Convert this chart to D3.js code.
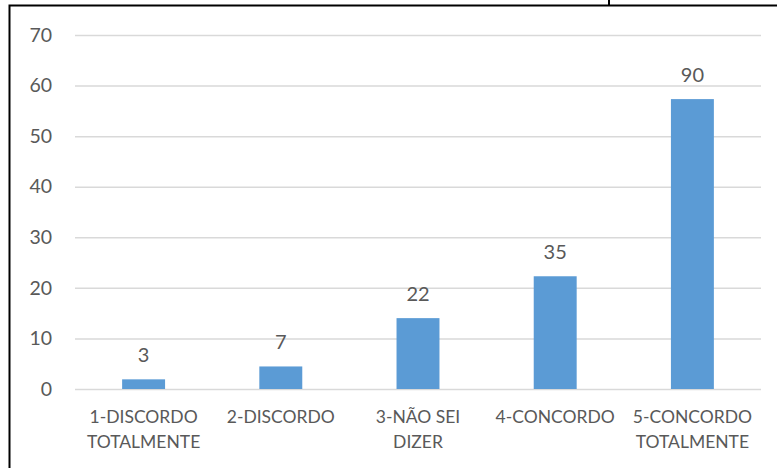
<!DOCTYPE html>
<html>
<head>
<meta charset="utf-8">
<script src="https://cdn.jsdelivr.net/npm/d3@7"></script>
<style>
  html, body { margin: 0; padding: 0; background: #fff; }
  svg { display: block; }
  text { font-family: Lato, "Open Sans", sans-serif; fill: #595959; }
</style>
</head>
<body>
<svg id="chart" width="777" height="468"></svg>
<script>
// Survey answers: number of respondents per option
const categories = [
  ["1-DISCORDO", "TOTALMENTE"],
  ["2-DISCORDO"],
  ["3-NÃO SEI", "DIZER"],
  ["4-CONCORDO"],
  ["5-CONCORDO", "TOTALMENTE"]
];
const counts = [3, 7, 22, 35, 90];
const yTicks = [0, 10, 20, 30, 40, 50, 60, 70];

// Bars show the share of all answers (%), labels show the raw count
const total = d3.sum(counts);
const shares = counts.map(c => c / total * 100);

const svg = d3.select("#chart");
const W = 777, H = 468;

const x = d3.scaleBand()
  .domain(d3.range(counts.length))
  .range([75, 761])
  .paddingInner(0.687)
  .paddingOuter(0.687 / 2);

const y = d3.scaleLinear().domain([0, 70]).range([389, 35]);

// Frame around the chart area
svg.append("path")
  .attr("d", `M9.5,${H} V5.5 H${W}`)
  .attr("fill", "none").attr("stroke", "#000").attr("stroke-width", 2);
svg.append("line")
  .attr("x1", 609).attr("x2", 609).attr("y1", 0).attr("y2", 5)
  .attr("stroke", "#000").attr("stroke-width", 2);

// Horizontal gridlines and value axis labels
const yAxis = d3.axisLeft(y).tickValues(yTicks).tickSize(-(761 - 75)).tickPadding(23);
const gy = svg.append("g").attr("transform", "translate(75,0)").call(yAxis);
gy.select(".domain").remove();
gy.selectAll(".tick line").attr("stroke", "#d9d9d9").attr("stroke-width", 1.5);
gy.selectAll(".tick text")
  .attr("font-size", 19.5).attr("fill", "#595959")
  .style("font-family", "Lato, 'Open Sans', sans-serif");

// Bars
svg.append("g").selectAll("rect")
  .data(shares)
  .join("rect")
  .attr("x", (d, i) => x(i))
  .attr("width", x.bandwidth())
  .attr("y", d => y(d))
  .attr("height", d => y(0) - y(d))
  .attr("fill", "#5b9bd5");

// Count labels above bars
svg.append("g").selectAll("text")
  .data(counts)
  .join("text")
  .attr("x", (d, i) => x(i) + x.bandwidth() / 2)
  .attr("y", (d, i) => y(shares[i]) - 17)
  .attr("text-anchor", "middle")
  .attr("font-size", 20)
  .text(d => d);

// Category labels (two lines where needed)
const xl = svg.append("g");
categories.forEach((lines, i) => {
  const t = xl.append("text")
    .attr("x", x(i) + x.bandwidth() / 2)
    .attr("y", 423)
    .attr("text-anchor", "middle")
    .attr("font-size", 17.5);
  lines.forEach((ln, j) => {
    t.append("tspan")
      .attr("x", x(i) + x.bandwidth() / 2)
      .attr("dy", j === 0 ? 0 : 25)
      .text(ln);
  });
});
</script>
</body>
</html>
